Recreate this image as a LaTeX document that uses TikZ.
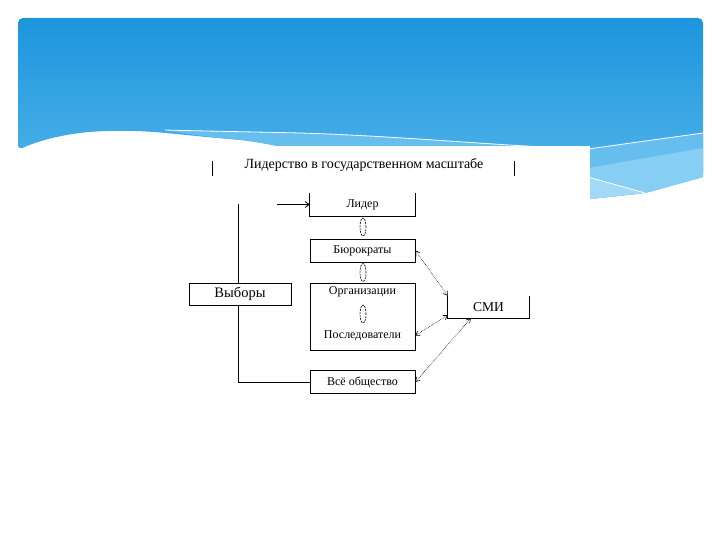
\documentclass[tikz,border=0pt]{standalone}
\usepackage{fontspec}
\setmainfont{Liberation Serif}
\usetikzlibrary{shapes.geometric,arrows.meta,calc}
\definecolor{bluetop}{HTML}{1C95DD}
\definecolor{bluebot}{HTML}{55B6EB}
\definecolor{bandA}{HTML}{66BEEE}
\definecolor{bandA2}{HTML}{86CEF4}
\definecolor{bandB}{HTML}{A2D9F7}
\begin{document}
\begin{tikzpicture}[x=1pt,y=-1pt,
  box/.style={minimum width=105pt, minimum height=23pt, inner sep=0pt, font=\fontsize{12}{13}\selectfont},
  ln/.style={line width=0.8pt},
  dbl/.style={densely dotted, line width=0.6pt, {Straight Barb[length=4pt,width=5pt]}-{Straight Barb[length=4pt,width=5pt]}},
  lens/.style={ellipse, draw, dashed, dash pattern=on 2pt off 1pt, line width=0.6pt, minimum width=6pt, minimum height=18pt, inner sep=0pt},
  bigtxt/.style={font=\fontsize{14.5}{16}\selectfont}]

\useasboundingbox (0,0) rectangle (720,540);
\fill[white] (0,0) rectangle (720,540);

% blue header
\shade[top color=bluetop, bottom color=bluebot, rounded corners=5pt]
  (18,150) -- (18,18) -- (703,18) -- (703,177) -- (645,193) -- (590,199) -- (420,178)
  .. controls (330,160) and (280,143) .. (230,139)
  .. controls (180,135) and (150,130) .. (110,131)
  .. controls (70,132) and (40,140) .. (18,150) -- cycle;
% light band
\fill[bandA] (165,130) .. controls (200,131) and (260,132) .. (300,133)
  .. controls (400,136) and (500,146) .. (588,149) -- (703,133) -- (703,177)
  -- (645,193) -- (590,199) -- (420,178)
  .. controls (330,160) and (280,143) .. (230,139)
  .. controls (200,136) and (180,133) .. (165,130) -- cycle;
\fill[bandA2] (588,168) -- (703,148) -- (703,177) -- (645,193) -- (590,199) -- cycle;
\draw[white, line width=0.8pt] (165,130) .. controls (200,131) and (260,132) .. (300,133)
  .. controls (400,136) and (500,146) .. (588,149) -- (703,133);
\fill[bandB] (588,177) -- (645,193) -- (590,199) -- cycle;
\draw[white, line width=0.8pt] (588,177) -- (645,193);
% pasted white image area
\fill[white] (208,146) rectangle (590,215);

% title
\node[font=\fontsize{14}{16}\selectfont] (title) at (364,165) {Лидерство в государственном масштабе};
\node[minimum width=301pt, minimum height=15pt, inner sep=0pt] (tframe) at (363.5,168.5) {};
\draw[ln] (tframe.north west) -- (tframe.south west);
\draw[ln] (tframe.north east) -- (tframe.south east);

% boxes
\node[box] (lider) at (362.5,204.5) {Лидер};
\draw[ln] (lider.north west) -- (lider.south west) -- (lider.south east) -- (lider.north east);
\node[box, draw, ln] (bur) at (362.5,250.5) {Бюрократы};
\node[minimum width=105pt, minimum height=67pt, inner sep=0pt, draw, ln] (orgframe) at (362.5,316.5) {};
\node[box] (org) at (362.5,292) {Организации};
\node[box] (posl) at (362.5,335.5) {Последователи};
\node[box, draw, ln] (all) at (362.5,382) {Всё общество};
\node[bigtxt, draw, ln, minimum width=102pt, minimum height=22pt, inner sep=0pt] (vyb) at (240,294) {Выборы};
\node[font=\fontsize{13.5}{15}\selectfont, minimum width=81pt, minimum height=22pt, inner sep=0pt] (smi) at (488.5,307) {СМИ};
\draw[ln] (smi.north west) -- (smi.south west) -- (smi.south east) -- (smi.north east);

% lenses between boxes
\node[lens] (e1) at (363,227) {};
\node[lens] (e2) at (363,272.5) {};
\node[lens] (e3) at (363,314) {};

% connectors
\coordinate (arrstart) at (277,204.5);
\draw[ln, -{Straight Barb[length=4pt,width=6pt]}] (arrstart) -- (lider.west);
\coordinate (vtop) at (238,204);
\draw[ln] (vtop) -- (vtop |- vyb.north);
\draw[ln] (vtop |- vyb.south) |- (all.west);

\draw[dbl] (bur.east) -- (smi.north west);
\draw[dbl] (posl.east) -- ($(smi.south west)+(0,-3)$);
\draw[dbl] (all.east) -- ($(smi.south west)+(23,0)$);
\end{tikzpicture}
\end{document}
